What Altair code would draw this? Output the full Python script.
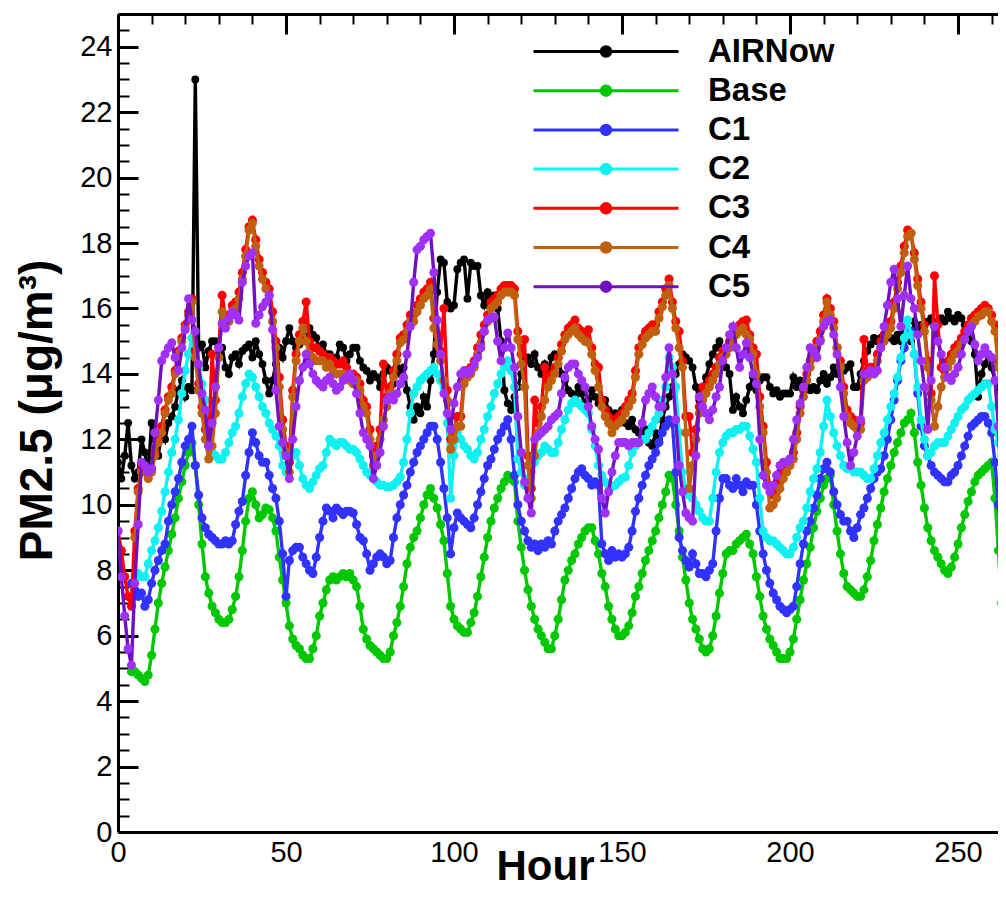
import altair as alt
import pandas as pd

series_names = ["AIRNow", "Base", "C1", "C2", "C3", "C4", "C5"]
line_colors = ["#000000", "#00c800", "#3232ff", "#10f0f0", "#ff0000", "#c0600f", "#7010c0"]
marker_colors = ["#000000", "#00c800", "#3232ff", "#10f0f0", "#ff0000", "#c0600f", "#a030f5"]
start_hours = [0, 4, 4, 5, 0, 5, 0]

airnow = [
    11.3, 10.8, 11.5, 12.5, 11.2, 10.8, 11.0, 12.0, 11.6, 11.0,
    12.5, 12.0, 11.5, 12.3, 12.0, 12.5, 12.7, 13.0, 13.5, 13.8,
    13.3, 13.6, 13.5, 23.0, 14.8, 14.9, 14.2, 14.7, 15.0, 15.0,
    14.5, 14.8, 14.2, 14.0, 14.5, 14.6, 14.3, 14.7, 14.8, 14.9,
    14.5, 15.0, 14.6, 14.3, 13.8, 13.4, 13.8, 14.3, 14.8, 14.5,
    15.0, 15.4, 15.0, 14.8, 14.9, 15.2, 15.0, 15.4, 15.2, 15.1,
    14.7, 14.9, 14.6, 14.6, 14.3, 14.5, 14.9, 14.8, 14.4, 14.6,
    14.8, 14.8, 14.4, 14.2, 14.1, 13.8, 14.0, 13.9, 13.6, 14.0,
    14.2, 14.1, 13.7, 14.2, 14.0, 14.2, 13.5, 13.0, 12.6, 13.0,
    12.8, 13.3, 13.0, 13.8, 14.6, 16.5, 17.5, 17.4, 16.2, 16.0,
    16.1, 17.2, 17.4, 17.5, 16.3, 17.4, 17.3, 17.3, 16.4, 16.1,
    16.5, 16.3, 16.4, 16.0, 15.0, 13.5, 13.1, 12.9, 13.3, 13.6,
    14.0, 14.4, 14.5, 14.3, 14.6, 14.2, 14.0, 14.3, 14.0, 14.5,
    14.6, 14.5, 14.0, 13.8, 13.5, 13.4, 13.3, 13.6, 13.4, 13.0,
    13.2, 13.5, 13.3, 13.1, 13.0, 13.2, 12.9, 12.7, 12.8, 12.6,
    12.9, 12.5, 12.4, 12.6, 12.3, 12.2, 12.0, 12.3, 11.9, 11.8,
    12.2, 12.0, 12.6, 13.0, 13.3, 13.6, 14.0, 14.3, 14.6, 14.5,
    14.4, 14.2, 13.6, 13.2, 13.5, 13.9, 14.3, 14.6, 14.8, 15.0,
    14.6, 14.2, 14.0, 12.9, 13.3, 13.0, 12.8, 13.2, 13.6, 13.9,
    13.5, 13.8, 13.9, 13.9, 13.6, 13.4, 13.5, 13.3, 13.4, 13.4,
    13.4, 13.9, 13.6, 13.8, 13.5, 13.8, 13.5, 13.6, 13.5, 13.8,
    14.0, 13.7, 13.9, 14.2, 14.0, 14.3, 14.1, 14.2, 14.3, 13.6,
    13.6, 14.0, 14.4, 14.7, 14.9, 15.1, 15.0, 15.1, 15.2, 15.3,
    15.1, 15.0, 15.2, 15.0, 15.3, 15.2, 15.0, 15.6, 15.4, 15.5,
    15.3, 15.6, 15.7, 15.5, 15.6, 15.7, 15.6, 15.9, 15.7, 15.6,
    15.8, 15.7, 15.5, 15.3, 15.0, 14.6, 13.3, 14.0, 14.3, 14.6,
    14.2, 13.8, 13.5, 13.4, 13.0, 12.8,
]

base = [
    4.9, 4.9, 4.8, 4.7, 4.6, 4.8,
    5.4, 6.2, 7.0, 7.6, 8.1, 8.6, 9.1, 9.6, 10.2, 10.7,
    11.2, 11.6, 11.9, 11.2, 10.0, 8.8, 7.8, 7.3, 6.9, 6.7,
    6.5, 6.4, 6.4, 6.5, 6.8, 7.2, 7.8, 8.6, 9.5, 10.2,
    10.4, 10.0, 9.6, 9.7, 9.9, 9.85, 9.6, 9.2, 8.4, 7.7,
    7.0, 6.3, 5.9, 5.7, 5.6, 5.4, 5.3, 5.3, 5.6, 6.0,
    6.6, 7.0, 7.4, 7.7, 7.8, 7.7, 7.8, 7.9, 7.8, 7.9,
    7.7, 7.5, 6.9, 6.2, 5.9, 5.7, 5.6, 5.5, 5.4, 5.3,
    5.3, 5.5, 6.0, 6.4, 6.9, 7.5, 8.2, 8.7, 9.0, 9.2,
    9.6, 10.0, 10.3, 10.5, 10.2, 9.9, 9.4, 8.9, 7.9, 6.9,
    6.5, 6.3, 6.2, 6.1, 6.1, 6.4, 6.7, 7.2, 7.8, 8.4,
    9.0, 9.5, 9.9, 10.2, 10.5, 10.7, 10.9, 10.8, 10.7, 9.5,
    8.7, 8.0, 7.4, 6.9, 6.5, 6.2, 6.0, 5.8, 5.6, 5.6,
    6.0, 6.5, 7.1, 7.7, 8.0, 8.3, 8.5, 8.8, 9.0, 9.2,
    9.3, 9.3, 8.9, 8.5, 7.9, 7.5, 6.9, 6.5, 6.2, 6.0,
    6.0, 6.1, 6.3, 6.7, 7.2, 7.5, 7.9, 8.3, 8.6, 8.9,
    9.2, 9.6, 10.0, 10.4, 10.9, 10.8, 10.0, 9.2, 8.4, 7.7,
    7.0, 6.5, 6.2, 5.9, 5.6, 5.5, 5.6, 6.0, 6.6, 7.3,
    7.9, 8.5, 8.6, 8.6, 8.8, 8.9, 9.0, 9.1, 8.8, 8.5,
    7.8, 7.2, 6.6, 6.2, 5.9, 5.7, 5.5, 5.3, 5.3, 5.3,
    5.5, 5.9, 6.5, 7.1, 7.7, 8.2, 8.7, 9.3, 9.8, 10.2,
    10.6, 10.8, 10.9, 10.0, 9.2, 8.5, 7.9, 7.5, 7.4, 7.3,
    7.2, 7.2, 7.4, 7.8, 8.3, 8.9, 9.4, 9.9, 10.4, 10.8,
    11.2, 11.6, 11.9, 12.2, 12.5, 12.6, 12.8, 12.2, 11.3, 10.6,
    9.9, 9.3, 8.9, 8.6, 8.4, 8.2, 8.0, 7.9, 8.1, 8.4,
    8.8, 9.3, 9.7, 10.1, 10.4, 10.7, 10.9, 11.0, 11.1, 11.2,
    11.3, 10.2, 8.6, 7.0, 6.5, 6.2,
]

c1 = [
    7.6, 7.4, 7.2, 7.3, 6.9, 7.1,
    7.6, 8.0, 8.3, 8.6, 8.8, 9.5, 10.0, 10.4, 10.8, 11.3,
    11.8, 12.0, 12.4, 11.2, 10.3, 9.6, 9.3, 9.1, 9.0, 8.9,
    8.8, 8.8, 8.9, 8.8, 8.9, 9.4, 9.8, 10.1, 10.9, 11.6,
    12.2, 11.9, 11.5, 11.3, 11.3, 10.9, 10.5, 10.2, 9.5, 8.5,
    7.2, 8.3, 8.6, 8.7, 8.7, 8.4, 8.2, 8.0, 7.9, 8.4,
    9.0, 9.5, 9.9, 9.8, 9.6, 9.9, 9.8, 9.7, 9.8, 9.8,
    9.75, 9.4, 9.0, 8.9, 8.5, 8.0, 8.2, 8.4, 8.5, 8.4,
    8.2, 8.3, 9.0, 9.6, 10.0, 10.3, 10.6, 11.0, 11.3, 11.6,
    11.8, 12.0, 12.2, 12.4, 12.4, 12.0, 11.3, 10.5, 9.6, 8.5,
    9.3, 9.75, 9.6, 9.5, 9.4, 9.3, 9.6, 10.0, 10.4, 10.8,
    11.2, 11.4, 11.7, 12.0, 12.2, 12.4, 12.6, 12.0, 10.9, 10.0,
    9.5, 9.2, 8.9, 8.7, 8.8, 8.6, 8.8, 8.7, 8.9, 8.8,
    9.2, 9.5, 9.7, 9.9, 10.2, 10.5, 10.8, 11.0, 11.1, 10.9,
    10.8, 10.6, 10.7, 10.6, 8.8, 8.5, 8.3, 8.6, 8.4, 8.5,
    8.4, 8.5, 8.7, 9.2, 9.8, 10.2, 10.6, 10.9, 11.2, 11.4,
    11.6, 11.9, 12.2, 12.4, 12.6, 12.5, 11.0, 9.0, 8.6, 8.3,
    8.1, 8.5, 8.2, 7.9, 7.9, 7.8, 8.0, 8.2, 9.2, 10.2,
    10.8, 10.8, 10.6, 10.5, 10.8, 10.6, 10.4, 10.7, 10.6, 10.6,
    10.0, 9.2, 8.5, 8.0, 7.6, 7.3, 7.1, 6.9, 6.8, 6.7,
    6.8, 6.9, 7.5, 8.2, 8.8, 9.2, 9.5, 9.9, 10.3, 10.8,
    11.1, 11.3, 11.0, 10.4, 10.0, 9.7, 9.5, 9.5, 9.2, 9.0,
    9.3, 9.7, 9.9, 10.2, 10.5, 10.8, 11.0, 11.1, 11.5, 12.0,
    12.6, 13.2, 13.8, 14.4, 14.8, 15.2, 15.3, 14.6, 13.4, 12.4,
    11.8, 11.5, 11.2, 11.0, 10.9, 10.8, 10.7, 10.7, 10.9, 11.0,
    11.2, 11.5, 11.8, 12.1, 12.4, 12.5, 12.6, 12.7, 12.7, 12.5,
    12.2, 11.3, 10.0, 8.8, 8.3, 8.0,
]

c2 = [
    7.8, 7.9, 7.8, 7.8, 8.2,
    8.6, 8.9, 9.3, 9.8, 10.4, 11.0, 11.6, 12.0, 12.6, 13.4,
    14.1, 14.6, 15.1, 14.6, 14.2, 13.7, 13.2, 11.9, 11.6, 11.5,
    11.4, 11.4, 11.6, 11.9, 12.2, 12.4, 12.8, 13.3, 13.7, 14.0,
    13.9, 13.6, 13.3, 13.0, 12.8, 12.5, 12.3, 12.1, 11.8, 11.2,
    11.0, 11.3, 11.5, 11.6, 11.2, 10.8, 10.6, 10.5, 10.7, 10.9,
    11.1, 11.2, 11.6, 12.0, 11.9, 11.8, 11.9, 11.9, 11.8, 11.7,
    11.7, 11.6, 11.4, 11.2, 11.0, 10.9, 10.8, 10.7, 10.6, 10.6,
    10.55, 10.55, 10.6, 10.7, 10.85, 11.3, 12.0, 12.8, 13.4, 13.6,
    13.8, 13.9, 14.0, 14.1, 14.2, 14.0, 13.8, 13.6, 12.5, 10.2,
    11.5, 12.2, 12.0, 11.8, 11.7, 11.5, 11.4, 11.6, 12.0, 12.3,
    12.7, 13.0, 13.4, 13.7, 14.0, 14.2, 14.4, 14.1, 13.6, 11.4,
    11.0, 10.6, 10.8, 11.0, 11.3, 11.5, 11.6, 11.8, 11.7, 11.6,
    11.6, 11.9, 12.3, 12.6, 12.9, 13.1, 13.2, 13.1, 13.0, 12.9,
    12.8, 12.3, 11.8, 11.2, 10.9, 10.7, 10.6, 10.55, 10.6, 10.7,
    10.8, 10.85, 11.2, 11.6, 11.8, 11.9, 12.0, 12.0, 12.2, 12.4,
    12.6, 12.8, 13.2, 13.6, 14.5, 14.2, 13.6, 12.2, 11.0, 10.5,
    10.3, 10.2, 10.0, 9.8, 9.6, 9.5, 9.5, 10.2, 11.0, 11.6,
    11.9, 12.1, 12.2, 12.2, 12.3, 12.3, 12.4, 12.4, 12.1, 11.7,
    11.3, 10.2, 9.2, 9.0, 8.9, 8.9, 8.8, 8.7, 8.6, 8.5,
    8.5, 8.7, 9.0, 9.3, 9.5, 9.9, 10.4, 10.8, 11.1, 11.6,
    12.4, 13.2, 12.7, 12.2, 11.8, 11.5, 11.2, 11.1, 11.1, 11.0,
    11.0, 11.0, 10.9, 10.8, 10.8, 11.1, 11.5, 11.9, 12.2, 12.6,
    13.0, 13.4, 13.9, 14.5, 15.1, 15.65, 15.2, 14.6, 13.6, 12.6,
    12.0, 11.5, 11.6, 11.8, 11.9, 11.9, 11.9, 12.1, 12.3, 12.5,
    12.7, 12.9, 13.0, 13.2, 13.3, 13.4, 13.5, 13.6, 13.7, 13.7,
    13.0, 12.3, 11.9, 11.5, 11.2, 11.0,
]

c3 = [
    9.2, 8.6, 7.8, 7.2, 6.9, 9.2, 10.5, 11.1, 11.1, 10.9,
    11.1, 11.6, 12.0, 12.4, 12.9, 13.3, 13.6, 14.1, 14.7, 15.1,
    15.5, 15.9, 16.3, 14.7, 13.7, 13.0, 12.3, 11.8, 14.6, 13.2,
    14.8, 16.4, 15.7, 15.8, 16.1, 16.2, 16.5, 17.1, 17.8, 18.5,
    18.7, 18.1, 17.5, 17.1, 16.8, 16.6, 15.9, 15.0, 13.9, 12.6,
    11.8, 11.3, 13.5, 14.6, 15.2, 15.6, 16.2, 15.0, 14.8, 14.8,
    14.7, 14.6, 14.5, 14.5, 14.4, 14.3, 14.3, 14.4, 14.2, 14.0,
    14.0, 13.9, 13.7, 13.2, 13.0, 12.3, 11.5, 11.8, 12.3, 14.3,
    13.3, 13.6, 14.1, 14.6, 15.1, 15.2, 15.5, 15.8, 15.8, 16.1,
    16.3, 16.5, 16.6, 16.8, 15.7, 15.2, 14.7, 16.0, 13.5, 12.0,
    12.3, 12.7, 12.7, 13.9, 14.1, 14.2, 14.4, 14.8, 15.2, 15.5,
    15.8, 16.2, 16.3, 16.4, 16.6, 16.7, 16.7, 16.7, 16.6, 15.3,
    14.6, 15.05, 11.5, 10.5, 13.2, 12.5, 13.0, 14.2, 13.8, 14.0,
    14.2, 14.5, 14.9, 15.2, 15.4, 15.5, 15.65, 15.4, 15.3, 15.2,
    15.35, 14.8, 14.3, 14.2, 13.2, 12.9, 12.7, 12.4, 12.6, 12.7,
    12.8, 13.0, 13.2, 13.4, 14.1, 14.8, 15.1, 15.3, 15.4, 15.5,
    15.5, 15.9, 16.2, 16.6, 16.9, 16.2, 15.6, 15.3, 14.4, 12.7,
    12.7, 11.6, 12.3, 13.0, 13.6, 13.6, 13.8, 14.0, 14.2, 14.5,
    14.7, 14.8, 15.0, 15.2, 15.4, 15.5, 15.6, 15.65, 15.2, 14.8,
    14.6, 13.3, 12.4, 11.3, 10.5, 10.3, 10.4, 10.7, 11.0, 11.2,
    11.4, 11.6, 12.2, 13.0, 13.5, 14.0, 14.4, 14.7, 15.0, 15.3,
    15.8, 16.3, 16.0, 15.6, 14.8, 14.4, 13.6, 12.9, 12.7, 12.6,
    12.5, 12.5, 15.05, 14.1, 14.2, 14.2, 14.6, 15.0, 15.2, 15.4,
    15.6, 16.2, 16.8, 17.3, 17.9, 18.4, 18.3, 17.7, 16.9, 16.2,
    15.5, 14.4, 13.4, 17.0, 15.5, 14.2, 14.1, 14.4, 14.6, 14.8,
    14.9, 15.1, 15.3, 15.5, 15.7, 15.8, 15.9, 16.0, 16.1, 16.0,
    15.8, 15.5, 14.4, 13.4, 12.7, 12.2,
]

c4 = [
    9.0, 10.4, 11.0, 11.0, 10.8,
    11.0, 11.5, 11.9, 12.2, 12.8, 13.2, 13.4, 14.0, 14.6, 15.0,
    15.4, 15.8, 16.2, 14.5, 13.5, 12.8, 12.0, 11.4, 11.8, 12.8,
    14.5, 15.9, 15.5, 15.6, 15.9, 16.0, 16.3, 16.9, 17.6, 18.4,
    18.6, 17.9, 17.3, 16.9, 16.6, 16.4, 15.6, 14.8, 13.6, 12.3,
    11.6, 11.0, 13.3, 14.4, 15.0, 15.4, 15.0, 14.6, 14.5, 14.4,
    14.4, 14.4, 14.2, 14.3, 14.1, 14.0, 14.0, 14.0, 13.9, 13.8,
    13.7, 13.8, 13.5, 13.0, 12.8, 12.0, 11.2, 11.5, 12.0, 12.6,
    13.0, 13.4, 13.9, 14.4, 14.95, 15.05, 15.3, 15.6, 15.6, 15.9,
    16.1, 16.3, 16.4, 16.6, 15.4, 14.9, 14.4, 13.8, 13.2, 11.7,
    12.0, 12.4, 12.4, 13.7, 13.9, 14.0, 14.2, 14.6, 14.95, 15.3,
    15.6, 16.0, 16.1, 16.2, 16.4, 16.5, 16.5, 16.5, 16.4, 15.05,
    14.3, 13.6, 11.2, 10.2, 11.5, 12.2, 12.7, 13.2, 13.6, 13.8,
    14.0, 14.3, 14.7, 15.05, 15.2, 15.3, 15.4, 15.2, 15.1, 15.0,
    14.95, 14.6, 14.1, 13.6, 13.0, 12.7, 12.5, 12.2, 12.4, 12.5,
    12.6, 12.8, 13.0, 13.2, 13.9, 14.6, 14.9, 15.1, 15.2, 15.3,
    15.3, 15.7, 16.05, 16.4, 16.7, 16.0, 15.4, 14.8, 14.2, 12.2,
    10.5, 11.2, 12.0, 12.8, 13.2, 13.4, 13.6, 13.8, 14.0, 14.3,
    14.5, 14.6, 14.8, 15.0, 15.2, 15.3, 15.4, 15.2, 15.05, 14.6,
    14.0, 13.0, 12.2, 11.0, 9.9, 10.0, 10.2, 10.5, 10.8, 11.0,
    11.2, 11.4, 12.0, 12.8, 13.3, 13.8, 14.2, 14.5, 14.8, 15.05,
    15.6, 16.2, 15.8, 15.4, 14.8, 14.2, 13.4, 12.7, 12.5, 12.4,
    12.3, 12.3, 13.8, 13.9, 14.0, 14.0, 14.4, 14.8, 15.0, 15.2,
    15.4, 16.0, 16.6, 17.1, 17.7, 18.2, 18.3, 17.5, 16.7, 16.0,
    15.3, 14.2, 13.2, 12.4, 13.0, 13.6, 13.9, 14.2, 14.4, 14.6,
    14.7, 14.9, 15.05, 15.3, 15.5, 15.6, 15.75, 15.8, 15.9, 15.9,
    15.6, 15.3, 14.2, 13.2, 12.5, 12.0,
]

c5 = [
    9.2, 7.8, 6.6, 5.6, 5.1, 7.6, 9.4, 11.3, 11.2, 11.0,
    11.1, 12.2, 13.2, 14.4, 14.6, 14.8, 14.95, 14.5, 14.1, 14.8,
    15.35, 16.3, 15.65, 15.3, 14.3, 13.4, 12.9, 11.8, 12.5, 13.6,
    14.8, 15.55, 15.4, 15.7, 15.9, 15.8, 15.65, 16.8, 17.3, 17.6,
    17.7, 15.55, 15.8, 16.05, 16.2, 16.4, 15.35, 13.5, 12.4, 11.9,
    11.5, 10.8, 12.0, 13.0, 13.8, 14.2, 14.6, 14.3, 14.0, 13.8,
    13.7, 13.6, 13.8, 13.9, 13.7, 13.5, 13.6, 13.8, 13.9, 14.0,
    13.8, 13.4, 12.8, 12.2, 12.0, 11.8, 10.8, 11.2, 11.6, 12.4,
    13.2, 13.3, 13.2, 13.4, 13.7, 13.9, 14.6, 15.45, 16.8, 17.8,
    17.9, 18.1, 18.2, 18.3, 17.1, 15.65, 14.6, 13.4, 12.8, 12.3,
    13.1, 13.6, 14.0, 14.1, 14.0, 14.1, 14.3, 14.5, 14.8, 15.3,
    15.65, 15.7, 15.75, 15.0, 14.4, 14.8, 15.25, 14.8, 14.2, 12.7,
    11.6, 10.7, 10.2, 9.75, 12.0, 12.1, 12.2, 12.3, 12.4, 12.6,
    12.7, 12.8, 13.4, 13.9, 14.2, 14.3, 14.3, 14.0, 13.8, 13.6,
    13.0, 12.4, 12.0, 11.7, 10.2, 9.75, 10.4, 11.0, 11.5, 11.9,
    11.9, 11.9, 11.8, 11.9, 11.9, 11.9, 12.5, 13.2, 13.4, 13.6,
    13.3, 13.0, 13.0, 13.9, 14.8, 14.0, 12.6, 11.2, 10.4, 9.75,
    9.6, 9.5, 11.5, 13.3, 13.0, 12.8, 12.6, 12.9, 13.3, 13.6,
    14.4, 14.8, 15.2, 15.45, 14.8, 14.2, 14.6, 14.95, 14.5, 14.0,
    13.7, 12.0, 10.9, 10.6, 10.4, 10.6, 10.9, 11.2, 11.3, 11.3,
    11.4, 12.0, 12.6, 13.1, 13.6, 14.2, 14.8, 14.7, 14.5, 15.0,
    15.45, 15.6, 15.65, 15.2, 14.6, 13.6, 12.7, 11.9, 11.2, 11.6,
    12.1, 12.6, 14.0, 14.0, 14.1, 14.0, 14.1, 14.8, 15.45, 16.1,
    16.8, 17.2, 16.3, 15.45, 16.4, 17.3, 16.3, 16.0, 15.2, 14.4,
    13.6, 12.3, 13.8, 15.45, 15.0, 14.6, 14.2, 13.9, 13.8, 14.0,
    14.2, 14.6, 15.05, 15.3, 15.45, 14.9, 14.4, 14.6, 14.8, 14.6,
    14.5, 13.8, 12.4, 10.2, 9.5, 9.2,
]

x_major_ticks = [0, 50, 100, 150, 200, 250]
y_major_ticks = [0, 2, 4, 6, 8, 10, 12, 14, 16, 18, 20, 22, 24]

all_values = [airnow, base, c1, c2, c3, c4, c5]
rows = []
for name, start, vals in zip(series_names, start_hours, all_values):
    for i, v in enumerate(vals):
        rows.append({"hour": start + i, "pm": v, "series": name})
df = pd.DataFrame(rows)

x_scale = alt.Scale(domain=[0, 261.9], nice=False, zero=False)
y_scale = alt.Scale(domain=[0, 25], nice=False)
color_scale = alt.Scale(domain=series_names, range=line_colors)
fill_scale = alt.Scale(domain=series_names, range=marker_colors)

tick_font = "Liberation Sans Narrow, Arial Narrow, Liberation Sans, Arial"
bold_font = "Liberation Sans, Arial"

x_axis = alt.Axis(
    values=list(range(0, 261, 10)),
    labelExpr="datum.value % 50 === 0 ? datum.label : ''",
    labelOverlap=False, labelFlush=False,
    ticks=False,
    domain=True, domainColor="black", domainWidth=3,
    grid=True, gridColor="black", gridOpacity=1,
    gridDash={"condition": {"test": "datum.value % 50 === 0", "value": [20, 3000]}, "value": [10, 3000]},
    gridWidth={"condition": {"test": "datum.value % 50 === 0", "value": 3}, "value": 2},
    labelFont=tick_font, labelFontSize=29, labelColor="black", labelPadding=6,
    title="Hour", titleFont=bold_font, titleFontSize=42, titleFontWeight="bold",
    titleColor="black", titleX=427, titleY=47, titleBaseline="alphabetic",
)

y_axis = alt.Axis(
    values=[i * 0.5 for i in range(0, 51)],
    labelExpr="datum.value % 2 === 0 ? format(datum.value, 'd') : ''",
    labelOverlap=False, labelFlush=False,
    ticks=False,
    domain=True, domainColor="black", domainWidth=3,
    grid=True, gridColor="black", gridOpacity=1,
    gridDash={"condition": {"test": "datum.value % 2 === 0", "value": [20, 3000]}, "value": [11, 3000]},
    gridWidth={"condition": {"test": "datum.value % 2 === 0", "value": 3}, "value": 2},
    labelFont=tick_font, labelFontSize=29, labelColor="black", labelPadding=6,
    title="PM2.5 (μg/m³)", titleFont=bold_font, titleFontSize=46, titleFontWeight="bold",
    titleColor="black", titleX=-81, titleY=396, titleAngle=-90,
    titleAlign="center", titleBaseline="middle",
)

ring = lambda r: f"M-{r},0A{r},{r},0,1,0,{r},0A{r},{r},0,1,0,-{r},0"
legend_path = "M-14.5,0H14.5" + ring(0.95) + ring(0.65) + ring(0.3)

legend = alt.Legend(
    title=None, orient="none", legendX=415, legendY=21,
    symbolType=legend_path, symbolSize=100, symbolStrokeWidth=3,
    symbolFillColor="transparent",
    symbolOffset=56.5, labelOffset=85.5,
    labelFont=bold_font, labelFontSize=33, labelFontWeight="bold", labelColor="black",
    rowPadding=5.2, padding=0,
)

layers = []
for k, name in enumerate(series_names):
    b = alt.Chart(df).transform_filter(alt.datum.series == name)
    first = (k == 0)
    line = b.mark_line(strokeWidth=3.4, clip=True).encode(
        x=alt.X("hour:Q", scale=x_scale, axis=x_axis if first else None),
        y=alt.Y("pm:Q", scale=y_scale, axis=y_axis if first else None),
        color=alt.Color("series:N", scale=color_scale, legend=legend if first else None),
    )
    pts = b.mark_circle(size=62 if name == "AIRNow" else 82, opacity=1, clip=True).encode(
        x=alt.X("hour:Q", scale=x_scale, axis=None),
        y=alt.Y("pm:Q", scale=y_scale, axis=None),
        fill=alt.Fill("series:N", scale=fill_scale, legend=None),
    )
    layers += [line, pts]

frame_top = alt.Chart(pd.DataFrame({"hour": [0]})).mark_point(opacity=0).encode(
    x=alt.X("hour:Q", scale=x_scale,
            axis=alt.Axis(orient="top", labels=False, ticks=False, grid=False, title=None,
                          domain=True, domainColor="black", domainWidth=3)),
)
layers.append(frame_top)

chart = alt.layer(*layers).resolve_axis(x="independent", y="independent").properties(
    width=880, height=818,
    autosize=alt.AutoSizeParams(type="none"),
    padding={"left": 110, "top": 6, "right": 0, "bottom": 56},
).configure_view(stroke=None).configure(background="white")

chart.save("out.html", embed_options={"renderer": "svg", "actions": False})
